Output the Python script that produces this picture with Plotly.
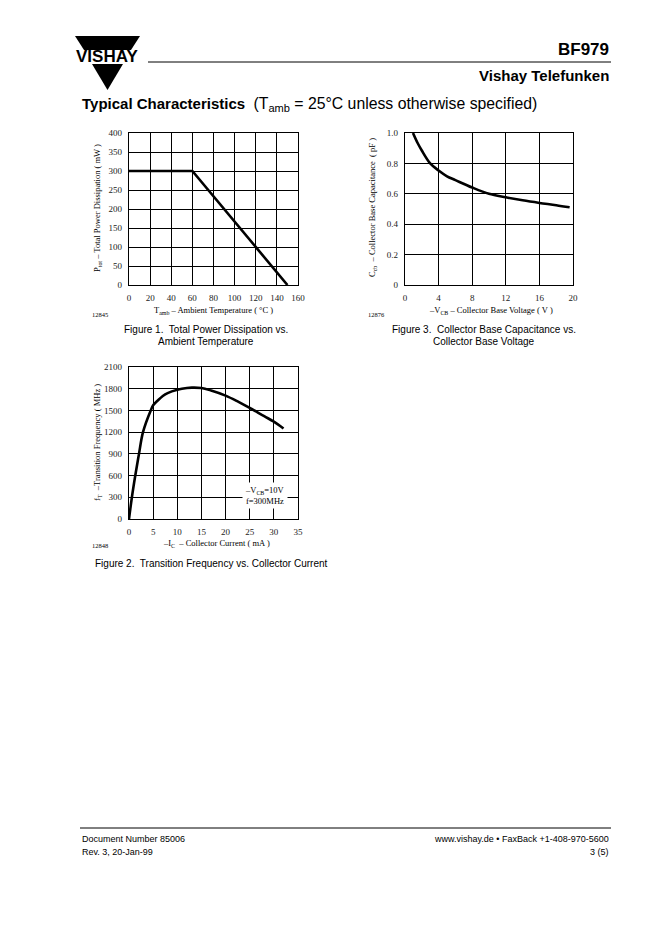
import plotly.graph_objects as go

# browser body keeps an 8px margin; keep the figure well inside the 662x936 window
OFF = 8
W, H = 622, 872

# ---------------- data ----------------
# Figure 1: Total power dissipation vs ambient temperature
f1_temp = [0, 60, 150]
f1_ptot = [300, 300, 0]
f1_xticks = [0, 20, 40, 60, 80, 100, 120, 140, 160]
f1_yticks = [0, 50, 100, 150, 200, 250, 300, 350, 400]

# Figure 3: Collector base capacitance vs collector base voltage
f3_vcb = [0.95, 1.5, 2, 3, 4, 5, 6, 8, 10, 12, 14, 16, 18, 19.6]
f3_ccb = [1.0, 0.934, 0.885, 0.80, 0.753, 0.715, 0.69, 0.641, 0.60, 0.577, 0.557, 0.54, 0.525, 0.511]
f3_xticks = [0, 4, 8, 12, 16, 20]
f3_yticks = [0, 0.2, 0.4, 0.6, 0.8, 1.0]
f3_ytext = ["0", "0.2", "0.4", "0.6", "0.8", "1.0"]

# Figure 2: Transition frequency vs collector current
f2_ic = [0, 0.6, 1.3, 2.07, 2.9, 4.5, 5, 6, 7, 8, 10, 12, 13, 15, 17, 20, 22.5, 25, 28, 30, 32]
f2_ft = [0, 300, 600, 900, 1200, 1500, 1570, 1640, 1700, 1740, 1785, 1810, 1815, 1810, 1775, 1705, 1625, 1535, 1420, 1345, 1250]
f2_xticks = [0, 5, 10, 15, 20, 25, 30, 35]
f2_yticks = [0, 300, 600, 900, 1200, 1500, 1800, 2100]


def X(px):
    return (px - OFF) / W


def Y(py):
    return 1 - (py - OFF) / H


SERIF = "Liberation Serif"
SANS = "Liberation Sans"

fig = go.Figure()

line_style = dict(color="black", width=2.6)
fig.add_trace(go.Scatter(x=f1_temp, y=f1_ptot, mode="lines", line=line_style,
                         xaxis="x", yaxis="y", showlegend=False))
fig.add_trace(go.Scatter(x=f3_vcb, y=f3_ccb, mode="lines", line=dict(line_style, shape="spline"),
                         xaxis="x2", yaxis="y2", showlegend=False))
fig.add_trace(go.Scatter(x=f2_ic, y=f2_ft, mode="lines", line=dict(line_style, shape="spline"),
                         xaxis="x3", yaxis="y3", showlegend=False))


def ax(domain, rng, tickvals, ticktext=None, anchor=None):
    d = dict(domain=domain, range=rng, tickvals=tickvals, showgrid=True, gridcolor="black",
             gridwidth=1, showline=True, linecolor="black", linewidth=1.2, mirror=True,
             zeroline=False, ticks="", ticklabelstandoff=4, automargin=False,
             tickfont=dict(family=SERIF, size=9, color="#222"), fixedrange=True)
    if ticktext is not None:
        d["ticktext"] = ticktext
    if anchor:
        d["anchor"] = anchor
    return d


dx1 = [X(129), X(298)]
dy1 = [Y(285), Y(133)]
dx3 = [X(405), X(573)]
dy2 = [Y(519), Y(367)]

fig.update_layout(
    width=W, height=H, margin=dict(l=0, r=0, t=0, b=0, autoexpand=False),
    paper_bgcolor="white", plot_bgcolor="white",
    xaxis=ax(dx1, [0, 160], f1_xticks, anchor="y"),
    yaxis=ax(dy1, [0, 400], f1_yticks, anchor="x"),
    xaxis2=ax(dx3, [0, 20], f3_xticks, anchor="y2"),
    yaxis2=ax(dy1, [0, 1.0], f3_yticks, f3_ytext, anchor="x2"),
    xaxis3=ax(dx1, [0, 35], f2_xticks, anchor="y3"),
    yaxis3=ax(dy2, [0, 2100], f2_yticks, anchor="x3"),
)

ann = []


def text(x, y, s, size, family=SANS, xanchor="left", angle=0, color="black", **kw):
    ann.append(dict(x=X(x), y=Y(y), xref="paper", yref="paper", text=s, showarrow=False,
                    xanchor=xanchor, yanchor="middle", textangle=angle,
                    font=dict(family=family, size=size, color=color), **kw))


# header
text(611, 49, "<b>BF979</b>", 17, xanchor="right")
text(611, 75, "<b>Vishay Telefunken</b>", 15, xanchor="right")
text(80, 104, "<b>Typical Characteristics</b>  <span style='font-size:15.8px'>(T<sub>amb</sub> = 25°C unless otherwise specified)</span>", 15)

# logo text
text(107, 57, "<b>VISHAY</b>", 17, xanchor="center")

# axis titles
text(213, 311, "T<sub>amb</sub> – Ambient Temperature ( °C )", 8.5, SERIF, "center")
text(98, 208, "P<sub>tot</sub> – Total Power Dissipation ( mW )", 8.5, SERIF, "center", -90)
text(491, 311, "–V<sub>CB</sub> – Collector Base Voltage ( V )", 8.5, SERIF, "center")
text(373, 208, "C<sub>cb</sub>  – Collector Base Capacitance  ( pF )", 8.5, SERIF, "center", -90)
text(217, 543, "–I<sub>C</sub>  – Collector Current ( mA )", 8.5, SERIF, "center")
text(97, 443, "f<sub>T</sub>  –Transition Frequency ( MHz )", 8.5, SERIF, "center", -90)

# figure codes
text(90, 314, "12845", 6.5, SERIF)
text(366, 314, "12876", 6.5, SERIF)
text(90, 545, "12848", 6.5, SERIF)

# captions
text(206, 329, "Figure 1.  Total Power Dissipation vs.", 10, SANS, "center")
text(206, 341, "Ambient Temperature", 10, SANS, "center")
text(484, 329, "Figure 3.  Collector Base Capacitance vs.", 10, SANS, "center")
text(484, 341, "Collector Base Voltage", 10, SANS, "center")
text(93, 563, "Figure 2.  Transition Frequency vs. Collector Current", 10, SANS)

# conditions box in figure 2
ann.append(dict(x=28.2, y=330, xref="x3", yref="y3", showarrow=False,
                text="–V<sub>CB</sub>=10V<br>f=300MHz", align="center",
                bgcolor="white", borderpad=2,
                font=dict(family=SERIF, size=8.5, color="black")))

# footer
text(80, 839, "Document Number 85006", 9)
text(80, 852, "Rev. 3, 20-Jan-99", 9)
text(611, 839, "www.vishay.de • FaxBack +1-408-970-5600", 9, xanchor="right")
text(611, 852, "3 (5)", 9, xanchor="right")

fig.update_layout(annotations=ann)


def path(points):
    return "M " + " L ".join(f"{X(a):.5f},{Y(b):.5f}" for a, b in points) + " Z"


shapes = [
    dict(type="line", xref="paper", yref="paper", x0=X(148), x1=X(611), y0=Y(62), y1=Y(62),
         line=dict(color="black", width=1)),
    dict(type="line", xref="paper", yref="paper", x0=X(80), x1=X(611), y0=Y(828), y1=Y(828),
         line=dict(color="black", width=1)),
    # logo: top band and lower triangle
    dict(type="path", xref="paper", yref="paper", path=path([(75, 36), (140, 36), (131, 50), (84, 50)]),
         fillcolor="black", line=dict(width=0)),
    dict(type="path", xref="paper", yref="paper", path=path([(92, 64), (123, 64), (107.5, 90)]),
         fillcolor="black", line=dict(width=0)),
]
fig.update_layout(shapes=shapes)

fig.write_html("out.html")
